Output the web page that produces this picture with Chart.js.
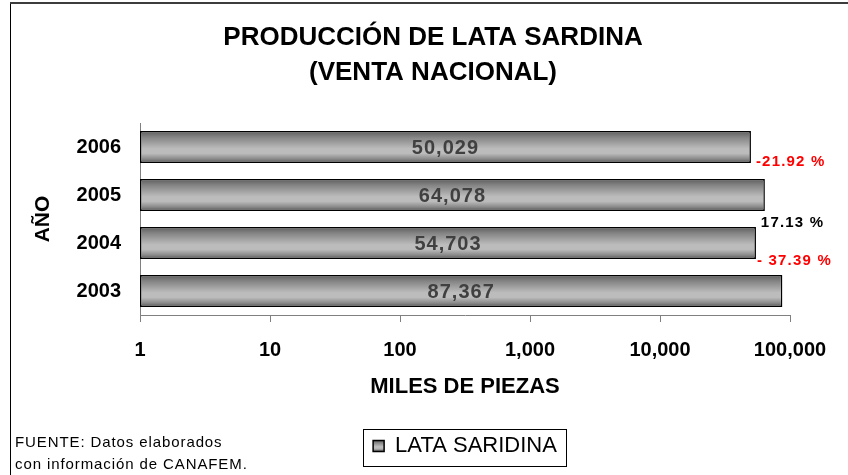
<!DOCTYPE html>
<html>
<head>
<meta charset="utf-8">
<title>Producción de lata sardina</title>
<script src="https://cdn.jsdelivr.net/npm/chart.js@4"></script>
<style>
    html, body { margin: 0; padding: 0; background: #fff; }
    #wrap { position: relative; width: 848px; height: 475px; }
</style>
</head>
<body>
<div id="wrap"><canvas id="sardinaChart"></canvas></div>
<script>
const years = ['2006', '2005', '2004', '2003'];
const piezas = [50029, 64078, 54703, 87367];
const changeLabels = ['-21.92 %', '17.13 %', '- 37.39 %', ''];
const changeColors = ['#ff0000', '#000000', '#ff0000', '#000000'];
const xTickValues = [1, 10, 100, 1000, 10000, 100000];
const xTickLabels = ['1', '10', '100', '1,000', '10,000', '100,000'];
const titleLines = ['PRODUCCIÓN DE LATA SARDINA', '(VENTA NACIONAL)'];
const sourceLines = ['FUENTE: Datos elaborados', 'con información de CANAFEM.'];
const seriesName = 'LATA SARIDINA';

const FONT = 'Arial, "Liberation Sans", sans-serif';
const BAR_PCT = 0.667;

// where the change labels sit, relative to the bar's end and lower edge
const changeOffsets = [[5, -1], [-4, 12], [1, 2], [0, 0]];

function barGradient(ctx, top, bottom) {
    const g = ctx.createLinearGradient(0, top, 0, bottom);
    g.addColorStop(0, '#5c5c5c');
    g.addColorStop(0.2, '#858585');
    g.addColorStop(0.55, '#bcbcbc');
    g.addColorStop(0.7, '#bcbcbc');
    g.addColorStop(0.88, '#888888');
    g.addColorStop(1, '#505050');
    return g;
}

const extras = {
    id: 'extras',
    beforeDraw(chart) {
        const { ctx, width, height } = chart;
        ctx.save();
        ctx.fillStyle = '#fff';
        ctx.fillRect(0, 0, width, height);

        // frame (only left and top edges show)
        ctx.strokeStyle = '#000';
        ctx.lineWidth = 1;
        ctx.beginPath();
        ctx.moveTo(10.5, 2);
        ctx.lineTo(10.5, height);
        ctx.stroke();
        ctx.strokeStyle = '#3c3c3c';
        ctx.lineWidth = 2;
        ctx.beginPath();
        ctx.moveTo(10, 3);
        ctx.lineTo(width, 3);
        ctx.stroke();

        ctx.fillStyle = '#000';
        ctx.textAlign = 'center';
        ctx.textBaseline = 'middle';
        ctx.font = `bold 26px ${FONT}`;
        titleLines.forEach((t, i) => ctx.fillText(t, 433, 38 + i * 35));

        ctx.textAlign = 'left';
        ctx.font = `15px ${FONT}`;
        ctx.letterSpacing = '0.9px';
        sourceLines.forEach((t, i) => ctx.fillText(t, 15, 443 + i * 22));

        // legend swatch gets the same shading as the bars
        const legend = chart.legend;
        if (legend && legend.legendHitBoxes && legend.legendHitBoxes.length) {
            const hb = legend.legendHitBoxes[0];
            const top = hb.top + (hb.height - 11) / 2;
            legend.legendItems[0].fillStyle = barGradient(ctx, top, top + 11);
        }
        ctx.restore();
    },
    afterDatasetsDraw(chart) {
        const ctx = chart.ctx;
        const meta = chart.getDatasetMeta(0);
        ctx.save();
        ctx.textBaseline = 'middle';
        meta.data.forEach((bar, i) => {
            ctx.font = `bold 20px ${FONT}`;
            ctx.fillStyle = '#404040';
            ctx.textAlign = 'center';
            ctx.letterSpacing = '1px';
            ctx.fillText(piezas[i].toLocaleString('en-US'), (bar.base + bar.x) / 2, bar.y + 1);

            if (!changeLabels[i]) return;
            const [dx, dy] = changeOffsets[i];
            ctx.font = `bold 15px ${FONT}`;
            ctx.fillStyle = changeColors[i];
            ctx.textAlign = 'left';
            ctx.letterSpacing = '1.2px';
            ctx.fillText(changeLabels[i], bar.x + dx, bar.y + bar.height / 2 + dy);
        });
        ctx.restore();
    },
    afterDraw(chart) {
        const legend = chart.legend;
        if (!legend || !legend.legendHitBoxes.length) return;
        const hb = legend.legendHitBoxes[0];
        const ctx = chart.ctx;
        ctx.save();
        ctx.strokeStyle = '#000';
        ctx.lineWidth = 1;
        ctx.strokeRect(Math.round(hb.left - 10) + 0.5, Math.round(hb.top - 6) + 0.5,
            Math.round(hb.width + 19), Math.round(hb.height + 15));
        ctx.restore();
    }
};

new Chart(document.getElementById('sardinaChart'), {
    type: 'bar',
    data: {
        labels: years,
        datasets: [{
            label: seriesName,
            data: piezas,
            backgroundColor: function(context) {
                const chart = context.chart;
                if (context.type !== 'data' || !chart.chartArea) return '#a8a8a8';
                const yScale = chart.scales.y;
                const half = (yScale.bottom - yScale.top) / years.length * BAR_PCT / 2;
                const y = yScale.getPixelForValue(context.dataIndex);
                return barGradient(chart.ctx, y - half, y + half);
            },
            borderColor: '#000',
            borderWidth: 1.5,
            borderSkipped: false,
            barPercentage: BAR_PCT,
            categoryPercentage: 1
        }]
    },
    options: {
        indexAxis: 'y',
        responsive: true,
        maintainAspectRatio: false,
        animation: false,
        layout: {
            padding: { left: 10, right: 58, top: 123, bottom: 8 }
        },
        plugins: {
            title: { display: false },
            tooltip: { enabled: false },
            legend: {
                position: 'bottom',
                fullSize: false,
                labels: {
                    font: { family: FONT, size: 22 },
                    color: '#000',
                    boxWidth: 11,
                    boxHeight: 11,
                    padding: 9
                }
            }
        },
        scales: {
            x: {
                type: 'logarithmic',
                min: 1,
                max: 100000,
                afterBuildTicks: (scale) => {
                    scale.ticks = xTickValues.map(v => ({ value: v }));
                },
                afterFit: (scale) => { scale.height = 111; },
                grid: {
                    display: true,
                    drawOnChartArea: false,
                    drawTicks: true,
                    tickLength: 7,
                    color: '#808080'
                },
                border: { display: true, color: '#808080', width: 1 },
                ticks: {
                    padding: 16,
                    color: '#000',
                    font: { family: FONT, size: 20, weight: 'bold' },
                    maxRotation: 0,
                    autoSkip: false,
                    callback: (value) => {
                        const i = xTickValues.indexOf(value);
                        return i >= 0 ? xTickLabels[i] : '';
                    }
                },
                title: {
                    display: true,
                    text: 'MILES DE PIEZAS',
                    color: '#000',
                    font: { family: FONT, size: 22, weight: 'bold' },
                    padding: { top: 0, bottom: 26 }
                }
            },
            y: {
                afterFit: (scale) => { scale.width = 130; },
                grid: { display: false, drawTicks: false },
                border: { display: true, color: '#808080', width: 1 },
                ticks: {
                    padding: 19,
                    color: '#000',
                    font: { family: FONT, size: 20, weight: 'bold' }
                },
                title: {
                    display: true,
                    text: 'AÑO',
                    color: '#000',
                    font: { family: FONT, size: 21, weight: 'bold' },
                    padding: { top: 21, bottom: 0 }
                }
            }
        }
    },
    plugins: [extras]
});
</script>
</body>
</html>
